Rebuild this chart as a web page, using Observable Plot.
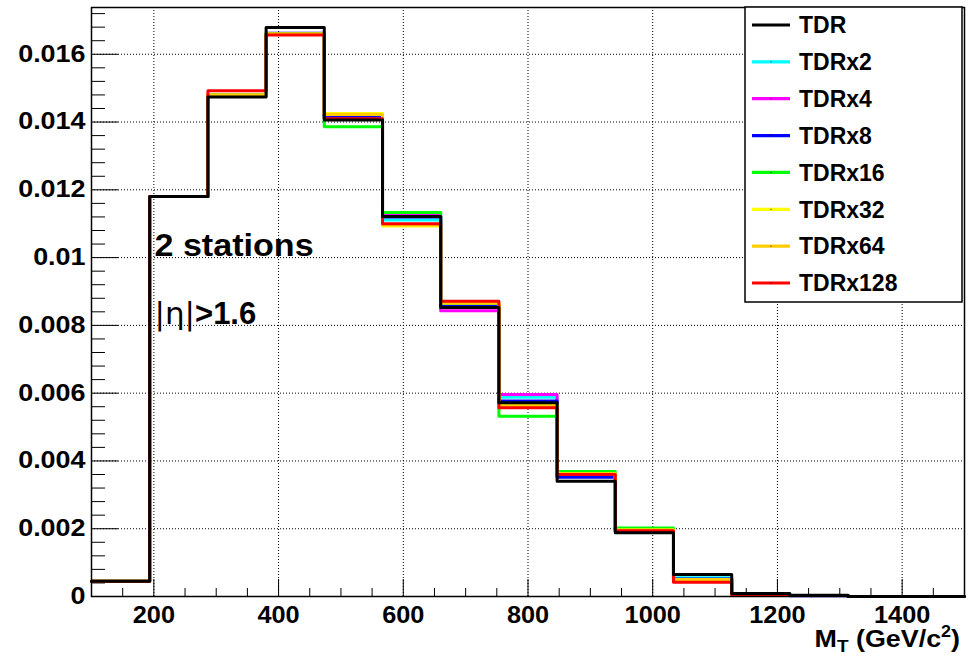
<!DOCTYPE html>
<html><head><meta charset="utf-8">
<script src="https://cdn.jsdelivr.net/npm/d3@7"></script>
<script src="https://cdn.jsdelivr.net/npm/@observablehq/plot@0.6"></script>
<style>
html,body{margin:0;padding:0;background:#fff;}
#chart{position:relative;width:969px;height:662px;}
</style></head><body><div id="chart"></div>
<script>
// ---- data ----
const binEdges = [100, 193.3, 286.7, 380, 473.3, 566.7, 660, 753.3, 846.7, 940, 1033.3, 1126.7, 1220, 1313.3, 1406.7, 1500];
const seriesNames  = ["TDR", "TDRx2", "TDRx4", "TDRx8", "TDRx16", "TDRx32", "TDRx64", "TDRx128"];
const seriesColors = ["#000000", "#00ffff", "#ff00ff", "#0000ff", "#00ff00", "#ffff00", "#ffcc00", "#ff0000"];
const tdr     = [0.00045, 0.0118, 0.01474, 0.01679, 0.01406, 0.01121, 0.00853, 0.00572, 0.00340, 0.00188, 0.00065, 0.00009, 0.00004, 0, 0];
const tdrx2   = [0.00045, 0.0118, 0.01480, 0.01660, 0.01412, 0.01111, 0.00860, 0.00588, 0.00354, 0.00194, 0.00055, 0.00005, 0.00003, 0, 0];
const tdrx4   = [0.00045, 0.0118, 0.01480, 0.01660, 0.01412, 0.01128, 0.00843, 0.00596, 0.00356, 0.00195, 0.00049, 0.00005, 0.00003, 0, 0];
const tdrx8   = [0.00045, 0.0118, 0.01480, 0.01662, 0.01415, 0.01120, 0.00858, 0.00577, 0.00352, 0.00192, 0.00052, 0.00005, 0.00002, 0, 0];
const tdrx16  = [0.00045, 0.0118, 0.01480, 0.01660, 0.01386, 0.01133, 0.00865, 0.00532, 0.00369, 0.00202, 0.00050, 0.00005, 0.00003, 0, 0];
const tdrx32  = [0.00045, 0.0118, 0.01480, 0.01660, 0.01425, 0.01093, 0.00866, 0.00565, 0.00362, 0.00196, 0.00050, 0.00005, 0.00003, 0, 0];
const tdrx64  = [0.00045, 0.0118, 0.01480, 0.01660, 0.01422, 0.01096, 0.00866, 0.00563, 0.00362, 0.00196, 0.00050, 0.00005, 0.00003, 0, 0];
const tdrx128 = [0.00045, 0.0118, 0.01492, 0.01657, 0.01410, 0.01100, 0.00871, 0.00557, 0.00360, 0.00194, 0.00042, 0.00005, 0.00003, 0, 0];
const seriesValues = [tdr, tdrx2, tdrx4, tdrx8, tdrx16, tdrx32, tdrx64, tdrx128];

const xTicks = [200, 400, 600, 800, 1000, 1200, 1400];
const xTickLabels = ["200", "400", "600", "800", "1000", "1200", "1400"];
const yTicks = [0, 0.002, 0.004, 0.006, 0.008, 0.010, 0.012, 0.014, 0.016];
const yTickLabels = ["0", "0.002", "0.004", "0.006", "0.008", "0.01", "0.012", "0.014", "0.016"];
const xMinorTicks = [150, 250, 300, 350, 450, 500, 550, 650, 700, 750, 850, 900, 950, 1050, 1100, 1150, 1250, 1300, 1350, 1450];
const yMinorTicks = [0.0004, 0.0008, 0.0012, 0.0016, 0.0024, 0.0028, 0.0032, 0.0036, 0.0044, 0.0048, 0.0052, 0.0056,
  0.0064, 0.0068, 0.0072, 0.0076, 0.0084, 0.0088, 0.0092, 0.0096, 0.0104, 0.0108, 0.0112, 0.0116,
  0.0124, 0.0128, 0.0132, 0.0136, 0.0144, 0.0148, 0.0152, 0.0156, 0.0164, 0.0168, 0.0172];
const xDomain = [100, 1500];
const yDomain = [0, 0.01738];
const xTitle = {main: "M", sub: "T", rest: " (GeV/c", sup: "2", close: ")"};
const notes = [{text: "2 stations", x: 201, y: 0.01004}];
const etaNote = {pre: "|η|", post: ">1.6", x: 201, y: 0.00804};

// ---- build table (colored first, TDR drawn last, on top) ----
const drawOrder = [1, 2, 3, 4, 5, 6, 7, 0];
const lineData = [];
for (const s of drawOrder) {
  const vals = seriesValues[s];
  vals.forEach((v, i) => lineData.push({series: seriesNames[s], x: binEdges[i], y: v}));
  lineData.push({series: seriesNames[s], x: binEdges[binEdges.length - 1], y: vals[vals.length - 1]});
}

const W = 969, H = 662, mL = 91, mR = 5, mT = 7, mB = 66;
const innerW = W - mL - mR, innerH = H - mT - mB;
const font = "'Liberation Sans', Arial, Helvetica, sans-serif";
const dotted = {stroke: "black", strokeWidth: 1, strokeDasharray: "1,2"};

const plot = Plot.plot({
  width: W, height: H,
  marginLeft: mL, marginRight: mR, marginTop: mT, marginBottom: mB,
  style: {fontFamily: font, fontSize: "23px", fontWeight: "bold", background: "white", color: "black", overflow: "visible"},
  x: {domain: xDomain},
  y: {domain: yDomain},
  color: {domain: seriesNames, range: seriesColors},
  marks: [
    Plot.ruleX(xTicks, {x: d => d, ...dotted}),
    Plot.ruleY(yTicks.filter(d => d > 0), {y: d => d, ...dotted}),
    Plot.tickX(xMinorTicks, {x: d => d, insetTop: innerH - 8, stroke: "black", strokeWidth: 1}),
    Plot.tickX(xTicks, {x: d => d, insetTop: innerH - 17, stroke: "black", strokeWidth: 1}),
    Plot.tickY(yMinorTicks, {y: d => d, insetRight: innerW - 14, stroke: "black", strokeWidth: 1}),
    Plot.tickY(yTicks, {y: d => d, insetRight: innerW - 27, stroke: "black", strokeWidth: 1}),
    Plot.line(lineData, {x: "x", y: "y", z: "series", stroke: "series", strokeWidth: 3, curve: "step-after"}),
    Plot.text(notes, {x: "x", y: "y", text: "text", textAnchor: "start", lineAnchor: "bottom", fontSize: 31, fontWeight: "bold", fill: "black"}),
    Plot.text([etaNote], {x: "x", y: "y", text: d => d.pre + d.post, textAnchor: "start", lineAnchor: "bottom", fontSize: 31, fontWeight: "bold", fill: "black"}),
    Plot.frame({stroke: "black", strokeWidth: 1.5}),
    Plot.axisX(xTicks, {tickSize: 0, tickPadding: 10, tickFormat: d => xTickLabels[xTicks.indexOf(d)], label: null, fontSize: 23, fontWeight: "bold"}),
    Plot.axisY(yTicks, {tickSize: 0, tickPadding: 6, tickFormat: d => yTickLabels[yTicks.indexOf(d)], label: null, fontSize: 23, fontWeight: "bold"})
  ]
});
document.getElementById("chart").appendChild(plot);

const svg = d3.select(plot);
const stretch = (sel, k) => sel.attr("transform", function () { return (this.getAttribute("transform") || "") + ` scale(${k},1)`; });
// horizontal stretch of labels (as in the ROOT rendering)
stretch(svg.selectAll("g[aria-label='y-axis tick label'] text"), 1.17);
stretch(svg.selectAll("g[aria-label='x-axis tick label'] text"), 1.1);
stretch(svg.selectAll("text").filter(function () { return this.textContent === notes[0].text; }), 1.1);

// eta note: thin Greek part
svg.selectAll("text").filter(function () { return this.textContent === etaNote.pre + etaNote.post; })
  .each(function () {
    const t = d3.select(this); t.text(null);
    t.append("tspan").attr("font-weight", "normal").attr("font-family", "'DejaVu Sans', sans-serif").text(etaNote.pre);
    t.append("tspan").text(etaNote.post);
  });

// x-axis title with sub/superscript
const xs = plot.scale("x");
const title = svg.append("text")
  .attr("transform", `translate(${xs.apply(xDomain[1]) - 4},${H - 15}) scale(1.12,1)`)
  .attr("text-anchor", "end").attr("font-family", font).attr("font-weight", "bold")
  .attr("font-size", 24).attr("fill", "black");
title.append("tspan").text(xTitle.main);
title.append("tspan").attr("font-size", 17).attr("dy", 5).text(xTitle.sub);
title.append("tspan").attr("dy", -5).text(xTitle.rest);
title.append("tspan").attr("font-size", 16).attr("dy", -10).text(xTitle.sup);
title.append("tspan").attr("dy", 10).text(xTitle.close);

// legend box
const lg = svg.append("g").attr("font-family", font).attr("font-weight", "bold").attr("font-size", 23).attr("text-anchor", "start");
lg.append("rect").attr("x", 745).attr("y", 7).attr("width", 217).attr("height", 295)
  .attr("fill", "white").attr("stroke", "black").attr("stroke-width", 1.5);
seriesNames.forEach((name, i) => {
  const cy = 25 + i * 36.86;
  lg.append("line").attr("x1", 752).attr("x2", 790).attr("y1", cy).attr("y2", cy)
    .attr("stroke", seriesColors[i]).attr("stroke-width", 3.2);
  if (i > 0) lg.append("rect").attr("x", 770.5).attr("y", cy - 0.5).attr("width", 1).attr("height", 1).attr("fill", "black");
  lg.append("text").attr("x", 799).attr("y", cy).attr("dy", "0.36em").attr("text-anchor", "start").attr("fill", "black").text(name);
});
</script></body></html>
